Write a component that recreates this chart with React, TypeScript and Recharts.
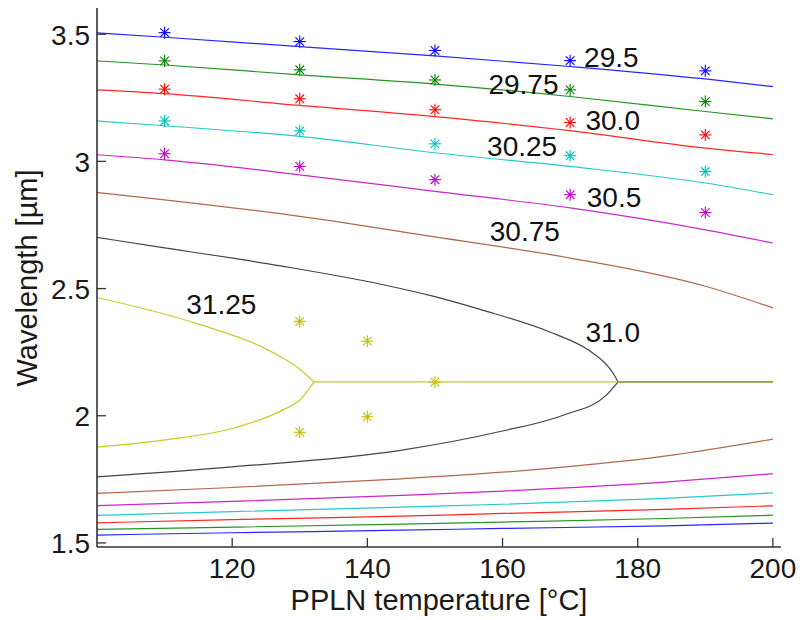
import React from 'react';
import { ComposedChart, Line, Scatter, XAxis, YAxis } from 'recharts';

// Poling-period contours (µm) of the PPLN OPO tuning curves
const FONT = "'Liberation Sans', Arial, sans-serif";

// Signal (upper) branches: temperature samples in °C, wavelengths in µm
const upperTemps = [100, 110, 130, 150, 170, 190, 200];
const upper295 = [3.505, 3.488, 3.451, 3.415, 3.373, 3.324, 3.294];
const upper2975 = [3.395, 3.379, 3.340, 3.304, 3.255, 3.196, 3.167];
const upper300 = [3.281, 3.266, 3.220, 3.176, 3.121, 3.052, 3.027];
const upper3025 = [3.159, 3.140, 3.098, 3.034, 2.980, 2.915, 2.869];
const upper305 = [3.026, 3.006, 2.947, 2.882, 2.817, 2.731, 2.679];
const upper3075 = [2.878, 2.849, 2.784, 2.703, 2.620, 2.509, 2.424];

// Idler (lower) branches
const lowerTemps = [100, 120, 145, 160, 184, 200];
const lower295 = [1.531, 1.540, 1.550, 1.557, 1.567, 1.578];
const lower2975 = [1.553, 1.562, 1.574, 1.582, 1.596, 1.609];
const lower300 = [1.579, 1.592, 1.605, 1.616, 1.632, 1.646];
const lower3025 = [1.608, 1.623, 1.641, 1.652, 1.675, 1.697];
const lower305 = [1.647, 1.663, 1.687, 1.704, 1.739, 1.772];
const lower3075 = [1.695, 1.718, 1.752, 1.778, 1.841, 1.908];

// 31.0 µm period: branches meet at degeneracy
const upper310Temps = [100, 110, 127.2, 142, 149.4, 156.8, 167.2, 172.6, 175.6, 176.5, 177.1];
const upper310 = [2.701, 2.660, 2.589, 2.517, 2.472, 2.417, 2.327, 2.260, 2.194, 2.161, 2.133];
const lower310Temps = [100, 120, 144.9, 159.8, 169.3, 175.2, 177.1];
const lower310 = [1.760, 1.799, 1.864, 1.939, 2.005, 2.077, 2.133];

// 31.25 µm period
const upper3125Temps = [100, 115.3, 125.2, 130.1, 132.1];
const upper3125 = [2.465, 2.358, 2.260, 2.181, 2.133];
const lower3125Temps = [100, 110.4, 120.3, 127.6, 130.1, 132.1];
const lower3125 = [1.877, 1.906, 1.952, 2.024, 2.064, 2.133];

// Degenerate wavelength line
const degenerateWl = 2.133;
const degenerate310Temps = [177.1, 200];
const degenerate3125Temps = [132.1, 200];

// Measured wavelengths (asterisks)
const measTemps = [110, 130, 150, 170, 190];
const meas295 = [3.506, 3.471, 3.436, 3.396, 3.356];
const meas2975 = [3.395, 3.360, 3.320, 3.281, 3.235];
const meas300 = [3.284, 3.246, 3.203, 3.153, 3.104];
const meas3025 = [3.159, 3.120, 3.069, 3.022, 2.960];
const meas305 = [3.030, 2.980, 2.928, 2.869, 2.799];
const meas3125Temps = [130, 130, 140, 140, 150];
const meas3125 = [2.371, 1.935, 2.293, 1.996, 2.132];

// Contour labels
const labelTexts = ['29.5', '29.75', '30.0', '30.25', '30.5', '30.75', '31.0', '31.25'];
const labelTemps = [176.1, 163.1, 176.3, 162.9, 176.5, 163.3, 176.3, 118.4];
const labelWls = [3.409, 3.303, 3.161, 3.057, 2.857, 2.723, 2.327, 2.437];

const xTicks = [120, 140, 160, 180, 200];
const yTicks = [1.5, 2, 2.5, 3, 3.5];

const BLUE = '#0000ff';
const GREEN = '#008000';
const RED = '#ff0000';
const CYAN = '#00bfbf';
const MAGENTA = '#bf00bf';
const BROWN = '#a0502a';
const BLACK = '#222222';
const YELLOW = '#bfbf00';

const pts = (xs: number[], ys: number[]) => xs.map((x, i) => ({ x, y: ys[i] }));
const flat = (xs: number[], y: number) => xs.map((x) => ({ x, y }));

const curves: { key: string; color: string; data: { x: number; y: number }[] }[] = [
  { key: 'u295', color: BLUE, data: pts(upperTemps, upper295) },
  { key: 'u2975', color: GREEN, data: pts(upperTemps, upper2975) },
  { key: 'u300', color: RED, data: pts(upperTemps, upper300) },
  { key: 'u3025', color: CYAN, data: pts(upperTemps, upper3025) },
  { key: 'u305', color: MAGENTA, data: pts(upperTemps, upper305) },
  { key: 'u3075', color: BROWN, data: pts(upperTemps, upper3075) },
  { key: 'l295', color: BLUE, data: pts(lowerTemps, lower295) },
  { key: 'l2975', color: GREEN, data: pts(lowerTemps, lower2975) },
  { key: 'l300', color: RED, data: pts(lowerTemps, lower300) },
  { key: 'l3025', color: CYAN, data: pts(lowerTemps, lower3025) },
  { key: 'l305', color: MAGENTA, data: pts(lowerTemps, lower305) },
  { key: 'l3075', color: BROWN, data: pts(lowerTemps, lower3075) },
  { key: 'u310', color: BLACK, data: pts(upper310Temps, upper310) },
  { key: 'l310', color: BLACK, data: pts(lower310Temps, lower310) },
  { key: 'd310', color: BLACK, data: flat(degenerate310Temps, degenerateWl) },
  { key: 'u3125', color: YELLOW, data: pts(upper3125Temps, upper3125) },
  { key: 'l3125', color: YELLOW, data: pts(lower3125Temps, lower3125) },
  { key: 'd3125', color: YELLOW, data: flat(degenerate3125Temps, degenerateWl) },
];

const measurements = [
  { key: 'm295', color: BLUE, data: pts(measTemps, meas295) },
  { key: 'm2975', color: GREEN, data: pts(measTemps, meas2975) },
  { key: 'm300', color: RED, data: pts(measTemps, meas300) },
  { key: 'm3025', color: CYAN, data: pts(measTemps, meas3025) },
  { key: 'm305', color: MAGENTA, data: pts(measTemps, meas305) },
  { key: 'm3125', color: YELLOW, data: pts(meas3125Temps, meas3125) },
];

const labels = labelTexts.map((text, i) => ({ x: labelTemps[i], y: labelWls[i], text }));

const Asterisk = ({ cx, cy, color }: { cx: number; cy: number; color: string }) => {
  const r = 6;
  const d = 4.3;
  return (
    <g stroke={color} strokeWidth={1.1}>
      <line x1={cx - r} y1={cy} x2={cx + r} y2={cy} />
      <line x1={cx} y1={cy - r} x2={cx} y2={cy + r} />
      <line x1={cx - d} y1={cy - d} x2={cx + d} y2={cy + d} />
      <line x1={cx - d} y1={cy + d} x2={cx + d} y2={cy - d} />
    </g>
  );
};

const XTick = (props: any) => {
  const { x, y, payload } = props;
  return (
    <g>
      <line x1={x} y1={y} x2={x} y2={y - 9} stroke="#333" strokeWidth={1.3} />
      <text x={x} y={y + 31} textAnchor="middle" fontSize={28} fontFamily={FONT} fill="#1a1a1a">
        {payload.value}
      </text>
    </g>
  );
};

const YTick = (props: any) => {
  const { x, y, payload } = props;
  return (
    <g>
      <line x1={x} y1={y} x2={x + 9} y2={y} stroke="#333" strokeWidth={1.3} />
      <text x={x - 7} y={y + 1} textAnchor="end" dominantBaseline="central" fontSize={28} fontFamily={FONT} fill="#1a1a1a">
        {payload.value}
      </text>
    </g>
  );
};

export default function App() {
  return (
    <div style={{ position: 'absolute', left: 0, top: 0, background: '#fff' }}>
      <ComposedChart width={803} height={620} margin={{ top: 8, right: 22, bottom: 0, left: 0 }}>
        <XAxis
          type="number"
          dataKey="x"
          domain={[100, 201.2]}
          allowDataOverflow
          ticks={xTicks}
          interval={0}
          height={73}
          tickSize={0}
          tickMargin={0}
          tickLine={false}
          tick={XTick}
          axisLine={{ stroke: '#333', strokeWidth: 1.6 }}
        />
        <XAxis
          xAxisId="top"
          orientation="top"
          type="number"
          domain={[100, 201.2]}
          height={0}
          tick={false}
          tickLine={false}
          axisLine={{ stroke: '#7a7a7a', strokeWidth: 2 }}
        />
        <YAxis
          type="number"
          dataKey="y"
          domain={[1.484, 3.603]}
          allowDataOverflow
          ticks={yTicks}
          interval={0}
          width={97}
          tickSize={0}
          tickMargin={0}
          tickLine={false}
          tick={YTick}
          axisLine={{ stroke: '#333', strokeWidth: 1.6 }}
        />
        <YAxis
          yAxisId="right"
          orientation="right"
          type="number"
          domain={[1.484, 3.603]}
          width={0}
          tick={false}
          tickLine={false}
          axisLine={{ stroke: '#333', strokeWidth: 2 }}
        />
        {curves.map((c) => (
          <Line
            key={c.key}
            data={c.data}
            dataKey="y"
            type="monotone"
            stroke={c.color}
            strokeWidth={1.2}
            strokeOpacity={0.85}
            dot={false}
            activeDot={false}
            isAnimationActive={false}
          />
        ))}
        {measurements.map((m) => (
          <Scatter
            key={m.key}
            data={m.data}
            dataKey="y"
            fill={m.color}
            isAnimationActive={false}
            shape={(p: any) => <Asterisk cx={p.cx} cy={p.cy} color={m.color} />}
          />
        ))}
        <Scatter
          data={labels}
          dataKey="y"
          isAnimationActive={false}
          shape={(p: any) => (
            <text
              x={p.cx}
              y={p.cy}
              textAnchor="middle"
              dominantBaseline="central"
              fontSize={28}
              fontFamily={FONT}
              fill="#111"
            >
              {p.payload.text}
            </text>
          )}
        />
        <text x={439} y={610} textAnchor="middle" fontSize={29} fontFamily={FONT} fill="#1a1a1a">
          PPLN temperature [°C]
        </text>
        <text
          x={37}
          y={278}
          textAnchor="middle"
          fontSize={29}
          fontFamily={FONT}
          fill="#1a1a1a"
          transform="rotate(-90, 37, 278)"
        >
          Wavelength [µm]
        </text>
      </ComposedChart>
    </div>
  );
}
